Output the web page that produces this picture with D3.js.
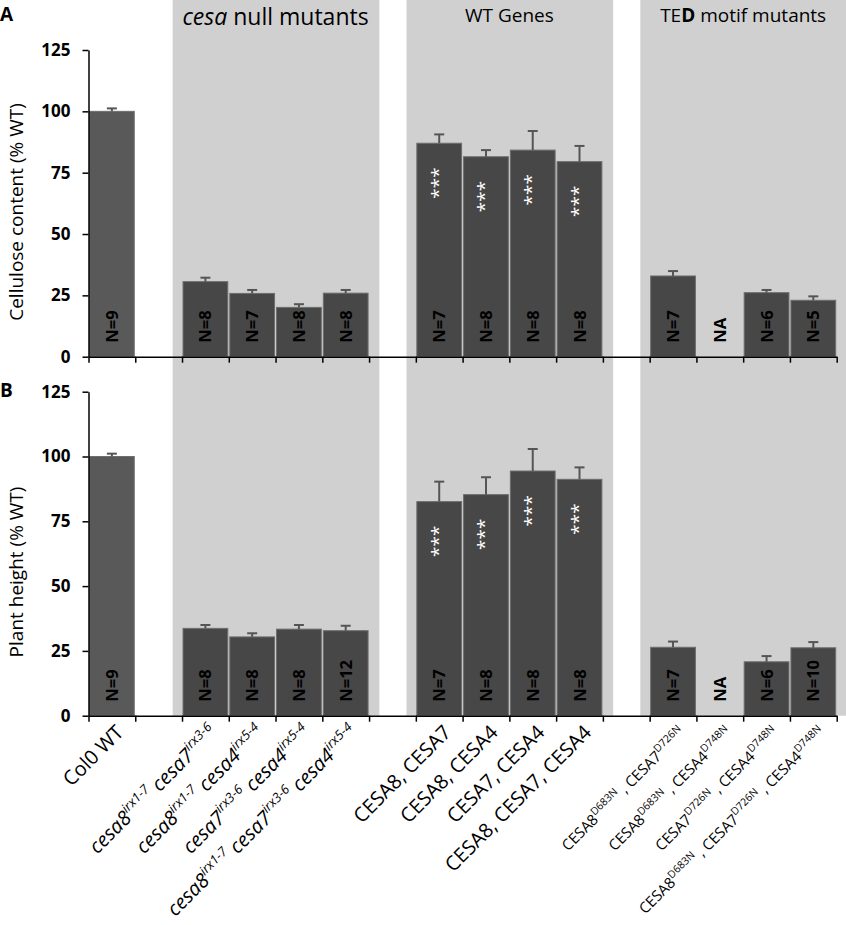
<!DOCTYPE html>
<html>
<head>
<meta charset="utf-8">
<script src="https://cdn.jsdelivr.net/npm/d3@7"></script>
<style>
  body { margin: 0; background: #fff; }
  text { font-family: "Open Sans", sans-serif; }
</style>
</head>
<body>
<div id="chart"></div>
<script>
// categories (^{...} = superscript) and which group each one belongs to
const categories = [
  "Col0 WT",
  "cesa8^{irx1-7} cesa7^{irx3-6}",
  "cesa8^{irx1-7} cesa4^{irx5-4}",
  "cesa7^{irx3-6} cesa4^{irx5-4}",
  "cesa8^{irx1-7} cesa7^{irx3-6} cesa4^{irx5-4}",
  "CESA8, CESA7",
  "CESA8, CESA4",
  "CESA7, CESA4",
  "CESA8, CESA7, CESA4",
  "CESA8^{D683N} , CESA7^{D726N}",
  "CESA8^{D683N} , CESA4^{D748N}",
  "CESA7^{D726N} , CESA4^{D748N}",
  "CESA8^{D683N} , CESA7^{D726N} , CESA4^{D748N}"
];
const groupOf = [0, 1, 1, 1, 1, 2, 2, 2, 2, 3, 3, 3, 3];
const groupTitles = ["", "cesa null mutants", "WT Genes", "TED motif mutants"];

// panel A: cellulose content (% WT)
const celluloseMean = [100, 30.6, 25.8, 20.1, 25.9, 87.0, 81.5, 84.2, 79.5, 32.9, null, 26.1, 23.0];
const celluloseErr  = [1.2, 1.6, 1.4, 1.3, 1.3, 3.6, 2.7, 7.8, 6.4, 2.0, null, 1.1, 1.6];
const celluloseN    = ["N=9", "N=8", "N=7", "N=8", "N=8", "N=7", "N=8", "N=8", "N=8", "N=7", "NA", "N=6", "N=5"];

// panel B: plant height (% WT)
const heightMean = [100, 33.7, 30.4, 33.4, 32.8, 82.6, 85.3, 94.4, 91.2, 26.4, null, 20.8, 26.2];
const heightErr  = [1.1, 1.3, 1.4, 1.6, 1.9, 7.7, 6.7, 8.5, 4.6, 2.2, null, 2.2, 2.2];
const heightN    = ["N=9", "N=8", "N=8", "N=8", "N=12", "N=7", "N=8", "N=8", "N=8", "N=7", "NA", "N=6", "N=10"];

const significant = [false, false, false, false, false, true, true, true, true, false, false, false, false];
const yTicks = [0, 25, 50, 75, 100, 125];

const width = 846;
const height = 925;
const xLeft = 88.5, xRight = 836.7;

const svg = d3.select("#chart")
  .append("svg")
  .attr("width", width)
  .attr("height", height);

// build slots: one empty slot between groups
const slots = [];
categories.forEach((c, i) => {
  if (i > 0 && groupOf[i] !== groupOf[i - 1]) slots.push("gap" + i);
  slots.push(c);
});

const x = d3.scaleBand()
  .domain(slots)
  .range([xLeft, xRight]);
const bw = x.bandwidth();

// boundaries for the tick marks
const xb = d3.scaleLinear().domain([0, slots.length]).range([xLeft, xRight]);

const panels = [
  { letter: "A", letterY: 21, y0: 356.7, yTop: 50, title: "Cellulose content (% WT)", titleY: 212,
    mean: celluloseMean, err: celluloseErr, n: celluloseN },
  { letter: "B", letterY: 397, y0: 715.7, yTop: 391.7, title: "Plant height (% WT)", titleY: 572,
    mean: heightMean, err: heightErr, n: heightN }
];

// grey group backgrounds
groupTitles.forEach((t, gi) => {
  if (!t) return;
  const members = categories.filter((c, i) => groupOf[i] === gi);
  const x0 = x(members[0]) - bw * 0.2;
  const x1 = gi === groupTitles.length - 1 ? width : x(members[members.length - 1]) + bw * 1.22;
  svg.append("rect")
    .attr("x", x0)
    .attr("y", 0)
    .attr("width", x1 - x0)
    .attr("height", panels[1].y0)
    .attr("fill", "#d0d0d0");
});

// group headers
const headerG = svg.append("g");
groupTitles.forEach((t, gi) => {
  if (!t) return;
  const members = categories.filter((c, i) => groupOf[i] === gi);
  const cx = (x(members[0]) + x(members[members.length - 1]) + bw) / 2;
  const txt = headerG.append("text")
    .attr("x", cx)
    .attr("y", gi === 1 ? 25 : 22)
    .attr("text-anchor", "middle")
    .attr("font-size", gi === 1 ? "23px" : "19px")
    .attr("fill", "#000");
  if (gi === 1) {
    txt.append("tspan").attr("font-style", "italic").text("cesa");
    txt.append("tspan").text(" null mutants");
  } else if (gi === 3) {
    txt.append("tspan").text("TE");
    txt.append("tspan").attr("font-weight", "bold").text("D");
    txt.append("tspan").text(" motif mutants");
  } else {
    txt.text(t);
  }
});

panels.forEach((p) => {
  const y = d3.scaleLinear().domain([0, 125]).range([p.y0, p.yTop]);
  const g = svg.append("g");

  // bars
  g.selectAll(".bar")
    .data(categories.filter((c, i) => p.mean[i] !== null))
    .enter()
    .append("rect")
    .attr("x", (d) => x(d) + 1)
    .attr("y", (d) => y(p.mean[categories.indexOf(d)]))
    .attr("width", bw - 2)
    .attr("height", (d) => p.y0 - y(p.mean[categories.indexOf(d)]))
    .attr("fill", (d) => categories.indexOf(d) === 0 ? "#595959" : "#474747")
    .attr("stroke", "#6e6e6e")
    .attr("stroke-width", 1);

  // error bars
  const eb = g.selectAll(".err")
    .data(categories.filter((c, i) => p.mean[i] !== null))
    .enter()
    .append("g")
    .attr("stroke", "#555")
    .attr("stroke-width", 2);
  eb.append("line")
    .attr("x1", (d) => x(d) + bw / 2)
    .attr("x2", (d) => x(d) + bw / 2)
    .attr("y1", (d) => y(p.mean[categories.indexOf(d)]))
    .attr("y2", (d) => { const i = categories.indexOf(d); return y(p.mean[i] + p.err[i]); });
  eb.append("line")
    .attr("x1", (d) => x(d) + bw / 2 - 5)
    .attr("x2", (d) => x(d) + bw / 2 + 5)
    .attr("y1", (d) => { const i = categories.indexOf(d); return y(p.mean[i] + p.err[i]); })
    .attr("y2", (d) => { const i = categories.indexOf(d); return y(p.mean[i] + p.err[i]); });

  // N labels
  g.selectAll(".nlab")
    .data(categories)
    .enter()
    .append("text")
    .attr("transform", (d) => `translate(${x(d) + bw / 2 + 6},${p.y0 - 14}) rotate(-90)`)
    .attr("font-family", "'Liberation Sans', Arial, sans-serif")
    .attr("font-weight", "bold")
    .attr("font-size", "16.5px")
    .attr("fill", "#000")
    .text((d, i) => p.n[i]);

  // significance stars
  g.selectAll(".star")
    .data(categories.filter((c, i) => significant[i]))
    .enter()
    .append("text")
    .attr("transform", (d) => `translate(${x(d) + bw / 2 + 5.5},${y(p.mean[categories.indexOf(d)]) + 24}) rotate(-90)`)
    .attr("text-anchor", "end")
    .attr("font-size", "19px")
    .attr("fill", "#fff")
    .text("***");

  // y axis
  g.append("g")
    .attr("transform", `translate(${xLeft},0)`)
    .call(d3.axisLeft(y).tickValues(yTicks).tickSize(6).tickSizeOuter(0))
    .call((a) => a.select(".domain").attr("stroke", "#000").attr("stroke-width", 1.5))
    .call((a) => a.selectAll(".tick line").attr("stroke", "#000").attr("stroke-width", 1.5))
    .call((a) => a.selectAll(".tick text")
      .attr("font-family", "'Open Sans', sans-serif")
      .attr("font-size", "17px")
      .attr("font-weight", "bold")
      .attr("fill", "#000")
      .attr("x", -18));

  // x axis
  g.append("g")
    .attr("transform", `translate(0,${p.y0})`)
    .call(d3.axisBottom(xb).tickValues(d3.range(slots.length + 1)).tickFormat("").tickSize(6).tickSizeOuter(0))
    .call((a) => a.select(".domain").attr("stroke", "#000").attr("stroke-width", 1.5))
    .call((a) => a.selectAll(".tick line").attr("stroke", "#000").attr("stroke-width", 1.5));

  // axis title
  g.append("text")
    .attr("transform", `translate(23,${p.titleY}) rotate(-90)`)
    .attr("text-anchor", "middle")
    .attr("font-size", "19px")
    .attr("fill", "#000")
    .text(p.title);

  // panel letter
  svg.append("text")
    .attr("x", 0)
    .attr("y", p.letterY)
    .attr("font-family", "'Liberation Sans', Arial, sans-serif")
    .attr("font-weight", "bold")
    .attr("font-size", "19px")
    .attr("fill", "#000")
    .text(p.letter);
});

// category labels under panel B
const labelY = panels[1].y0;
const labelStyle = [
  { size: 20, sup: 13, italic: false },
  { size: 20, sup: 13, italic: true },
  { size: 20, sup: 13, italic: false },
  { size: 15, sup: 10.5, italic: false }
];
categories.forEach((c, i) => {
  const st = labelStyle[groupOf[i]];
  const cx = x(c) + bw / 2;
  const t = svg.append("text")
    .attr("transform", `translate(${cx + 13},${labelY + 18}) rotate(-45)`)
    .attr("text-anchor", "end")
    .attr("font-size", st.size + "px")
    .attr("font-style", st.italic ? "italic" : "normal")
    .attr("fill", "#000");
  const parts = c.split(/\^\{([^}]*)\}/);
  const shift = st.size * 0.42;
  let raised = false;
  parts.forEach((s, k) => {
    if (s === "") return;
    const isSup = k % 2 === 1;
    const ts = t.append("tspan").text(s);
    if (isSup) {
      ts.attr("font-size", st.sup + "px").attr("dy", -shift);
      raised = true;
    } else if (raised) {
      ts.attr("dy", shift);
      raised = false;
    }
  });
});
</script>
</body>
</html>
